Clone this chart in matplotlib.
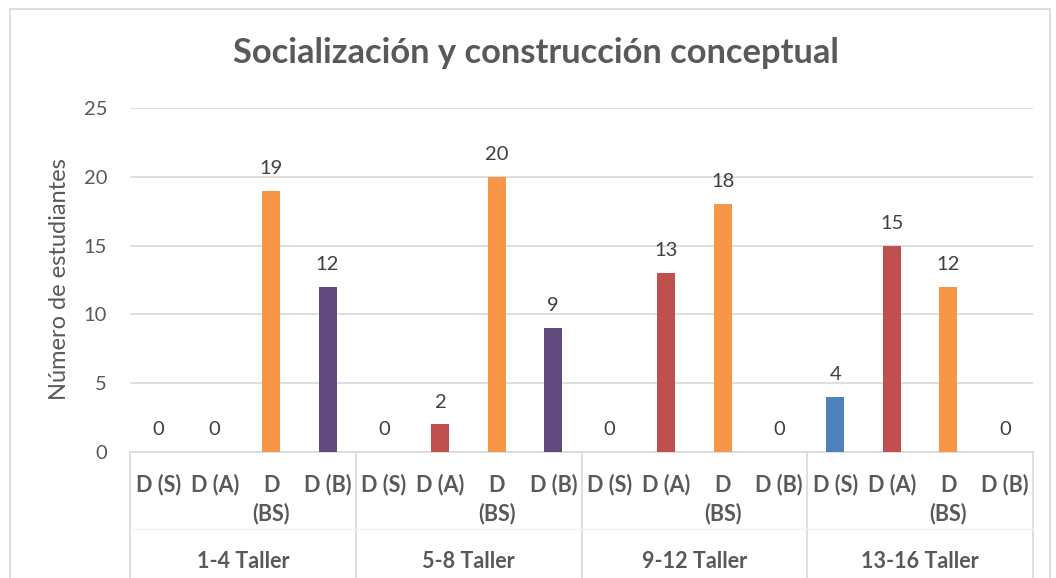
import matplotlib
matplotlib.use("Agg")
import matplotlib.pyplot as plt
from matplotlib import transforms
from matplotlib.lines import Line2D

# Data
groups = ["1-4 Taller", "5-8 Taller", "9-12 Taller", "13-16 Taller"]
subcats = ["D (S)", "D (A)", "D\n(BS)", "D (B)"]
values = [
    [0, 0, 19, 12],
    [0, 2, 20, 9],
    [0, 13, 18, 0],
    [4, 15, 12, 0],
]
colors = ["#4F81BD", "#C0504D", "#F79646", "#604A7B"]

title = "Socialización y construcción conceptual"
ylabel = "Número de estudiantes"
yticks = [0, 5, 10, 15, 20, 25]

W, H = 1056, 578
fig = plt.figure(figsize=(W / 100, H / 100), dpi=100)
plt.rcParams["font.family"] = ["Lato", "DejaVu Sans"]

txt = "#595959"
grid = "#D9D9D9"

# outer chart frame
fig.add_artist(Line2D([10 / W, 10 / W], [0, 1 - 9 / H], color=grid, lw=1.2, transform=fig.transFigure))
fig.add_artist(Line2D([10 / W, 1050 / W], [1 - 9 / H, 1 - 9 / H], color=grid, lw=1.2, transform=fig.transFigure))
fig.add_artist(Line2D([1050 / W, 1050 / W], [0, 1 - 9 / H], color=grid, lw=1.2, transform=fig.transFigure))

left, right, top, bottom = 130, 1033, 108, 452
ax = fig.add_axes([left / W, 1 - bottom / H, (right - left) / W, (bottom - top) / H])

n = len(subcats)
xs, hs, cs = [], [], []
for g, vals in enumerate(values):
    for i, v in enumerate(vals):
        xs.append(g * n + i)
        hs.append(v)
        cs.append(colors[i])

ax.bar(xs, hs, width=0.32, color=cs, zorder=3)
for x, h in zip(xs, hs):
    ax.annotate(str(h), (x, h), xytext=(0, 10), textcoords="offset points",
                ha="center", va="bottom", fontsize=14.5, color="#404040")

ax.set_xlim(-0.5, len(xs) - 0.5)
ax.set_ylim(0, 25)
ax.set_yticks(yticks)
ax.yaxis.grid(True, color=grid, lw=1.2, zorder=0)
ax.tick_params(axis="y", length=0, pad=16.5, labelsize=14.5, labelcolor=txt)
ax.set_xticks([])
for s in ["top", "right", "left"]:
    ax.spines[s].set_visible(False)
ax.spines["bottom"].set_color(grid)
ax.spines["bottom"].set_linewidth(1.2)

# axis title and chart title
fig.text(60 / W, 1 - 279 / H, ylabel, rotation=90, ha="center", va="center",
         fontsize=17, color=txt)
fig.text(536 / W, 1 - 53 / H, title, ha="center", va="center",
         fontsize=24.8, fontweight="bold", color=txt)

# multi-level category axis
bt = transforms.blended_transform_factory(ax.transData, fig.transFigure)
for x in xs:
    for k, line in enumerate(subcats[x % n].split("\n")):
        ax.text(x, 1 - (485 + 29 * k) / H, line, transform=bt, ha="center", va="center",
                fontsize=15.5, fontweight="bold", color=txt)
for g, name in enumerate(groups):
    cx = g * n + (n - 1) / 2
    ax.text(cx, 1 - 562 / H, name, transform=bt, ha="center", va="center",
            fontsize=15.5, fontweight="bold", color=txt)
for g in range(len(groups) + 1):
    xb = g * n - 0.5
    ax.add_artist(Line2D([xb, xb], [0, 1 - bottom / H], transform=bt,
                         color=grid, lw=1.2, clip_on=False))
ax.add_artist(Line2D([-0.5, len(xs) - 0.5], [1 - 529 / H, 1 - 529 / H], transform=bt,
                     color="#F2F2F2", lw=1, clip_on=False))

fig.savefig("out.png", dpi=100)
